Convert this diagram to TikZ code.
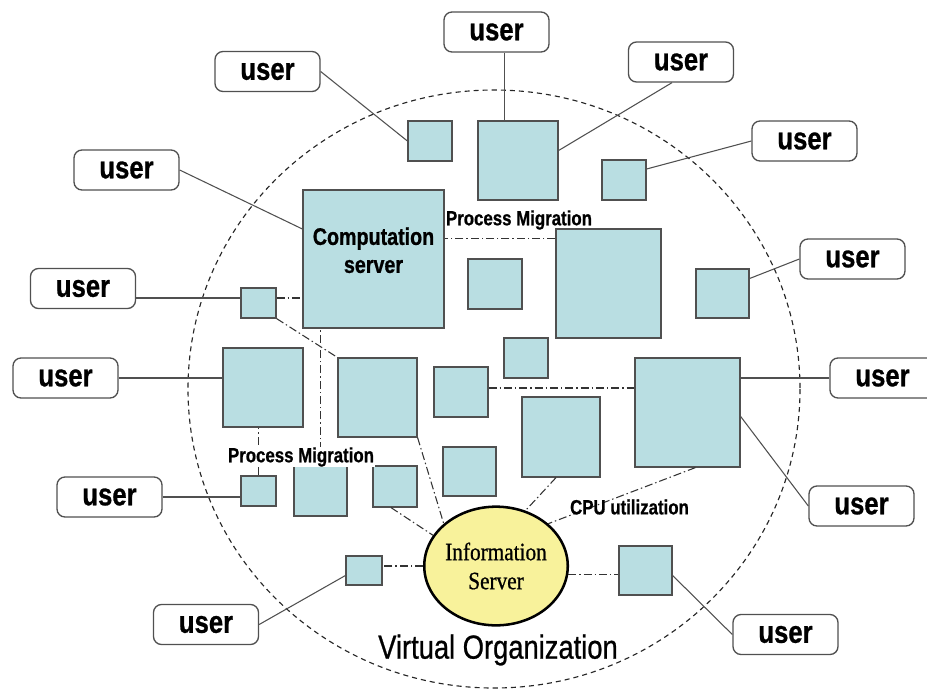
\documentclass[tikz,border=0pt]{standalone}
\usepackage{fontspec}
\usetikzlibrary{fit,calc,shapes.geometric}
\newfontfamily\sansc[FakeStretch=0.82,FakeBold=0.8]{Liberation Sans}
\newfontfamily\sansvo[FakeStretch=0.82,FakeBold=0.7]{Liberation Sans}
\newfontfamily\serifc[FakeStretch=0.85,FakeBold=0.7]{Liberation Serif}
\definecolor{boxc}{RGB}{185,222,226}
\definecolor{infoc}{RGB}{248,242,155}
\definecolor{edgec}{RGB}{80,80,80}
\tikzset{
  userbox/.style={draw=edgec, line width=1pt, rounded corners=6pt, fill=white,
    minimum width=78.75pt, minimum height=30pt, inner sep=0pt,
    font=\sansc\bfseries\fontsize{23.5}{26}\selectfont},
  bx/.style={draw=edgec, line width=0.9pt, fill=boxc, inner sep=0pt},
  wire/.style={draw=edgec, line width=0.8pt},
  dd/.style={draw=black!80, line width=0.8pt, dash pattern=on 6pt off 2.2pt on 1.1pt off 2.2pt},
  lbl/.style={font=\sansc\bfseries\fontsize{15.4}{17}\selectfont, inner sep=0.5pt},
}
\begin{document}
\begin{tikzpicture}[x=0.75pt,y=-0.75pt]
\useasboundingbox (0,0) rectangle (927,690);
\begin{scope}
\clip (0,0) rectangle (927,690);
% virtual organisation boundary
\draw[black!85, line width=0.85pt, dash pattern=on 3.8pt off 3pt] (494,389) ellipse [x radius=306, y radius=299];

% boxes
\node[bx, fit={(408,121) (452,161)}] (A) {};
\node[bx, fit={(478,121) (558,200)}] (B) {};
\node[bx, fit={(602,160) (646,200)}] (C) {};
\node[bx, fit={(303,190) (444,328)}, align=center,
  font=\sansc\bfseries\fontsize{18}{21}\selectfont] (Comp) {Computation\\server};
\node[bx, fit={(556,229) (661,338)}] (D) {};
\node[bx, fit={(241,288) (276,318)}] (E) {};
\node[bx, fit={(223,348) (303,427)}] (F) {};
\node[bx, fit={(338,358) (417,437)}] (G) {};
\node[bx, fit={(434,367) (488,417)}] (H) {};
\node[bx, fit={(468,259) (522,309)}] (I) {};
\node[bx, fit={(504,338) (548,378)}] (J) {};
\node[bx, fit={(696,269) (749,318)}] (K) {};
\node[bx, fit={(635,358) (740,467)}] (L) {};
\node[bx, fit={(522,397) (600,477)}] (M) {};
\node[bx, fit={(443,447) (496,496)}] (N) {};
\node[bx, fit={(241,476) (276,506)}] (O) {};
\node[bx, fit={(294,466) (347,516)}] (P) {};
\node[bx, fit={(373,466) (417,507)}] (Q) {};
\node[bx, fit={(346,556) (382,585)}] (R) {};
\node[bx, fit={(619,546) (672,595)}] (S) {};

% information server
\node[ellipse, draw=black, line width=1.9pt, fill=infoc, minimum width=105.75pt,
  minimum height=89pt, inner sep=0pt, align=center,
  font=\serifc\fontsize{18.75}{21.75}\selectfont] (Info) at (496,566) {Information\\Server};

% users
\node[userbox] (u1) at (267.5,71.5) {user};
\node[userbox] (u2) at (496.5,32) {user};
\node[userbox] (u3) at (681,62) {user};
\node[userbox] (u13) at (804.5,141) {user};
\node[userbox] (u4) at (126.5,170) {user};
\node[userbox] (u5) at (83,288.5) {user};
\node[userbox] (u6) at (65.5,378) {user};
\node[userbox] (u7) at (109.5,497) {user};
\node[userbox] (u8) at (206,624.5) {user};
\node[userbox] (u9) at (785.5,634.5) {user};
\node[userbox] (u10) at (852.5,259) {user};
\node[userbox] (u11) at (882.5,378) {user};
\node[userbox] (u12) at (861.5,506) {user};

% helper points on box borders
\coordinate (Btop) at ($(B.north west)+(27,0)$);
\coordinate (Ewest) at ($(E.west)+(0,-5)$);
\coordinate (Eeast) at ($(E.east)+(0,-5)$);
\coordinate (Dwest) at ($(D.north west)+(0,10)$);
\coordinate (Heast) at ($(H.east)+(0,-4)$);

% user connections (solid)
\draw[wire] (u1.east) -- (A.west);
\draw[wire] (Btop) -- (Btop |- u2.south);
\draw[wire] ($(u3.south)+(-9,0)$) -- ($(B.east)+(0,-10)$);
\draw[wire] (u13.west) -- ($(C.east)+(0,-11)$);
\draw[wire] (u4.east) -- ($(Comp.west)+(0,-30)$);
\draw[wire] (Ewest) -- (Ewest -| u5.east);
\draw[wire] (u6.east) -- (u6.east -| F.west);
\draw[wire] (u7.east) -- (u7.east -| O.west);
\draw[wire] (u8.east) -- ($(R.west)+(0,5)$);
\draw[wire] (u9.west) -- ($(S.east)+(0,5)$);
\draw[wire] (u10.west) -- ($(K.east)+(0,-15)$);
\draw[wire] (u11.west) -- (u11.west -| L.east);
\draw[wire] (u12.west) -- ($(L.north east)+(0,59)$);

% dash-dot relations
\draw[dd] (Dwest) -- (Dwest -| Comp.east);
\draw[dd] (Eeast) -- (Eeast -| Comp.west);
\draw[dd] (E.south east) -- (G.north west);
\draw[dd] (P.north) -- (P.north |- Comp.south);
\draw[dd] (O.north) -- (O.north |- F.south);
\draw[dd] (Heast) -- (Heast -| L.west);
\draw[dd] (G.south east) -- (Info.141);
\draw[dd] ($(Q.south)+(-4,0)$) -- (Info.154);
\draw[dd] ($(M.south)+(-5,0)$) -- (Info.62);
\draw[dd] ($(L.south west)+(61,0)$) -- (Info.39);
\draw[dd] (Info.west) -- (Info.west -| R.east);
\draw[dd] (Info.-7) -- (Info.-7 -| S.west);

% labels
\node[lbl] (pm1) at (519,220) {Process Migration};
\node[lbl, fill=white] (pm2) at (301,457) {Process Migration};
\node[lbl] (cpu) at (629.5,507) {CPU utilization};
\node[font=\sansvo\fontsize{25}{28}\selectfont] (vo) at (498,650) {Virtual Organization};
\end{scope}
\end{tikzpicture}
\end{document}
